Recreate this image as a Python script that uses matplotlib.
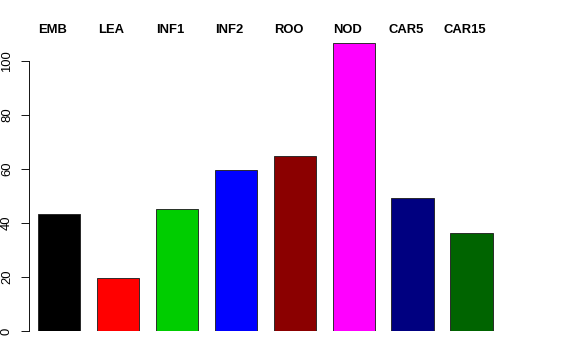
import matplotlib
matplotlib.use("Agg")
import matplotlib.pyplot as plt
import numpy as np

plt.rcParams['font.family'] = ['Liberation Sans', 'DejaVu Sans']

# data
samples = ['EMB', 'LEA', 'INF1', 'INF2', 'ROO', 'NOD', 'CAR5', 'CAR15']
values = [43.4, 19.6, 45.3, 59.6, 64.8, 106.6, 49.3, 36.3]
colors = ['#000000', '#FF0000', '#00CD00', '#0000FF', '#8B0000', '#FF00FF', '#000080', '#006400']
yticks = [0, 20, 40, 60, 80, 100]

# R style barplot: width 1, space 0.4
W, H = 576, 360
fig = plt.figure(figsize=(W / 72, H / 72), dpi=72)

px_unit = 42.1          # pixels per bar unit on x
x0_px = 21              # pixel where x = 0
y0_px = 331             # pixel where y = 0
py_unit = 2.7           # pixels per y unit

ax_left, ax_right = 29, 560
ax_top_val = 110
ax = fig.add_axes([ax_left / W, (H - y0_px) / H,
                   (ax_right - ax_left) / W, (ax_top_val * py_unit) / H])
ax.set_xlim((ax_left - x0_px) / px_unit, (ax_right - x0_px) / px_unit)
ax.set_ylim(0, ax_top_val)

pos = 0.4 + np.arange(len(samples)) * 1.4 + 0.5
ax.bar(pos, values, width=1.0, color=colors, edgecolor='#222222', linewidth=0.9)

# labels along the top, a little left of each bar centre
for x, s in zip(pos - 0.15, samples):
    ax.text(x, (y0_px - 29.5) / py_unit, s, ha='center', va='center',
            fontsize=13, fontweight='bold', clip_on=False)

for side in ['top', 'right', 'bottom']:
    ax.spines[side].set_visible(False)
ax.spines['left'].set_bounds(0, 100)
ax.spines['left'].set_linewidth(0.9)
ax.set_xticks([])
ax.set_yticks(yticks)
ax.set_yticklabels([str(t) for t in yticks], rotation=90, va='center', fontsize=13)
ax.tick_params(axis='y', length=8, width=0.9, pad=8)

fig.savefig('out.png', dpi=72)
